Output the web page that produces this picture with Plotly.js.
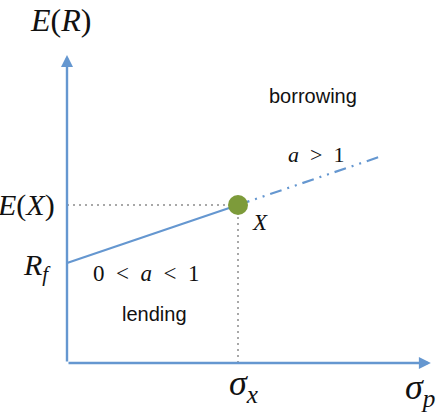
<!DOCTYPE html>
<html>
<head>
<meta charset="utf-8">
<script src="https://cdn.plot.ly/plotly-3.0.1.min.js"></script>
<style>
  html, body { margin: 0; padding: 0; background: #fff; }
  #chart { width: 439px; height: 414px; }
</style>
</head>
<body>
<div id="chart"></div>
<script>
// capital market line: risk-free point, portfolio X, and the leveraged extension
const riskFree = 1.0;
const sigmaX = 1.0;
const returnX = 1.58;
const sigmaEnd = 1.825;
const returnEnd = 2.06;

const lendingSigma = [0, sigmaX];
const lendingReturn = [riskFree, returnX];
const borrowSigma = [sigmaX, sigmaEnd];
const borrowReturn = [returnX, returnEnd];

const blue = '#6597d0';
const grey = '#a8a8a8';
const serif = 'Liberation Serif, DejaVu Serif, serif';
const sans = 'Liberation Sans, Arial, sans-serif';

const traces = [
    // guide lines to the axes
    { x: [0, sigmaX], y: [returnX, returnX], mode: 'lines', line: { color: grey, width: 2, dash: '2px,4px' }, hoverinfo: 'skip' },
    { x: [sigmaX, sigmaX], y: [0, returnX], mode: 'lines', line: { color: grey, width: 2, dash: '2px,4px' }, hoverinfo: 'skip' },
    { x: lendingSigma, y: lendingReturn, mode: 'lines', line: { color: blue, width: 2.2 }, hoverinfo: 'skip' },
    { x: borrowSigma, y: borrowReturn, mode: 'lines', line: { color: blue, width: 2.2, dash: '12px,6px,2px,6px,2px,6px' }, hoverinfo: 'skip' },
    { x: [sigmaX], y: [returnX], mode: 'markers', marker: { color: '#7d9b3a', size: 20 }, hoverinfo: 'skip' }
];

function label(text, x, y, size, family, anchor) {
    return {
        text: text, x: x, y: y, xref: 'x', yref: 'y', showarrow: false,
        xanchor: anchor || 'center', yanchor: 'middle',
        font: { family: family, size: size, color: '#111' }
    };
}

const annotations = [
    // axis arrows
    { x: 2.128, y: 0, ax: 0, ay: 0, xref: 'x', yref: 'y', axref: 'x', ayref: 'y', showarrow: true, arrowhead: 2, arrowsize: 1, arrowwidth: 2.4, arrowcolor: blue, text: '' },
    { x: 0, y: 3.08, ax: 0, ay: 0, xref: 'x', yref: 'y', axref: 'x', ayref: 'y', showarrow: true, arrowhead: 2, arrowsize: 1, arrowwidth: 2.4, arrowcolor: blue, text: '' },
    label('<i>E</i>(<i>R</i>)', -0.04, 3.43, 32, serif),
    label('<i>E</i>(<i>X</i>)', -0.058, returnX, 30, serif, 'right'),
    label('<i>R<sub>f</sub></i>', -0.082, 0.96, 30, serif, 'right'),
    label('<i>σ<sub>x</sub></i>', 1.03, -0.22, 36, serif),
    label('<i>σ<sub>p</sub></i>', 2.165, -0.26, 36, serif, 'right'),
    label('borrowing', 1.44, 2.67, 20, sans),
    label('<i>a</i>  &gt;  1', 1.456, 2.09, 22, serif),
    label('<i>X</i>', 1.13, 1.41, 23, serif),
    label('0  &lt;  <i>a</i>  &lt;  1', 0.462, 0.9, 23, serif),
    label('lending', 0.51, 0.49, 20, sans)
];

const hidden = { visible: false, showgrid: false, zeroline: false, fixedrange: true };

const layout = {
    width: 439,
    height: 414,
    margin: { l: 0, r: 0, t: 0, b: 0 },
    paper_bgcolor: '#fff',
    plot_bgcolor: '#fff',
    showlegend: false,
    xaxis: { ...hidden, range: [-0.3918, 2.1754] },
    yaxis: { ...hidden, range: [-0.51, 3.63] },
    annotations: annotations
};

Plotly.newPlot('chart', traces, layout, { staticPlot: true });
</script>
</body>
</html>
